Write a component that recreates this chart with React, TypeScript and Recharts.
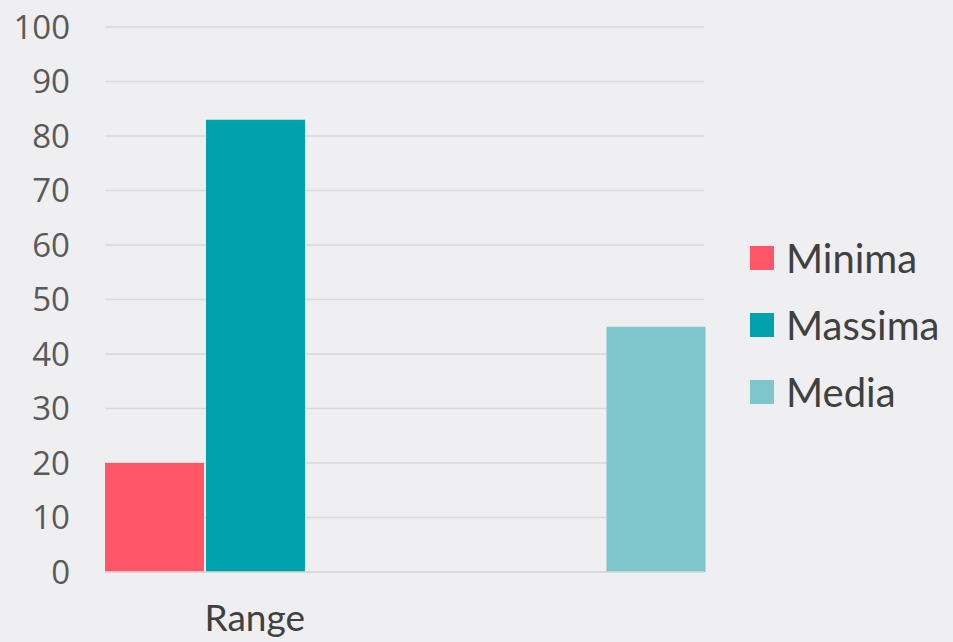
import React from 'react';
import { BarChart, Bar, XAxis, YAxis, CartesianGrid, Legend } from 'recharts';

// カテゴリと系列の値
const categories = ['Range', ''];
const minima = [20, null];
const massima = [83, null];
const media = [null, 45];
const yTicks = [0, 10, 20, 30, 40, 50, 60, 70, 80, 90, 100];

const series = [
  { key: 'Minima', color: '#FF5768' },
  { key: 'Massima', color: '#00A2AC' },
  { key: 'Media', color: '#7FC6CC' },
];

const data = categories.map((name, i) => ({
  name,
  Minima: minima[i],
  Massima: massima[i],
  Media: media[i],
}));

const legendFont = 'Lato, "DejaVu Sans", sans-serif';

// 凡例（縦並び）
const renderLegend = () => (
  <div style={{ fontFamily: legendFont }}>
    {series.map((s) => (
      <div key={s.key} style={{ display: 'flex', alignItems: 'center', height: 67 }}>
        <span style={{ width: 24, height: 24, background: s.color, marginRight: 12 }} />
        <span style={{ fontSize: 40, color: '#404040' }}>{s.key}</span>
      </div>
    ))}
  </div>
);

export default function App() {
  return (
    <div
      style={{
        position: 'absolute',
        left: 0,
        top: 0,
        width: 953,
        height: 642,
        background: '#EFEEF1',
        overflow: 'hidden',
      }}
    >
      <BarChart
        width={953}
        height={642}
        data={data}
        margin={{ top: 27, right: 249, bottom: 0, left: 0 }}
        barCategoryGap={0}
        barGap={2}
      >
        <CartesianGrid vertical={false} stroke="#D9D9D9" strokeWidth={1.5} />
        <XAxis
          dataKey="name"
          height={70}
          tickSize={0}
          tickMargin={33}
          axisLine={{ stroke: '#D9D9D9', strokeWidth: 1.5 }}
          tick={{ fontSize: 37, fill: '#404040', fontFamily: legendFont }}
        />
        <YAxis
          width={105}
          domain={[0, 100]}
          ticks={yTicks}
          interval={0}
          tickSize={0}
          tickMargin={35}
          axisLine={false}
          tick={{ fontSize: 33, fill: '#595959', fontFamily: '"Open Sans", sans-serif' }}
        />
        <Legend
          layout="horizontal"
          verticalAlign="middle"
          align="center"
          content={renderLegend}
          wrapperStyle={{ left: 750, top: 224, width: 203 }}
        />
        {series.map((s) => (
          <Bar key={s.key} dataKey={s.key} fill={s.color} isAnimationActive={false} />
        ))}
      </BarChart>
    </div>
  );
}
